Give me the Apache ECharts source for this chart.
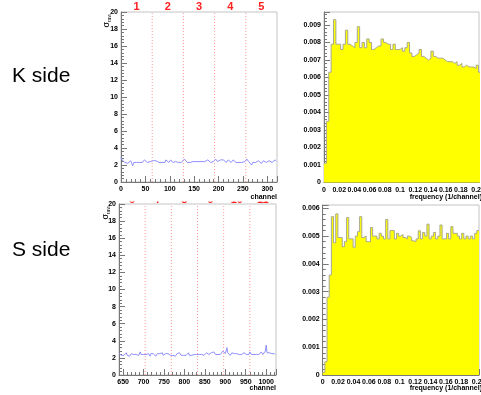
<!DOCTYPE html>
<html>
<head>
<meta charset="utf-8">
<script src="https://cdn.jsdelivr.net/npm/echarts@6/dist/echarts.min.js"></script>
<style>
  html, body { margin: 0; padding: 0; background: #fff; }
  #chart { width: 481px; height: 395px; }
</style>
</head>
<body>
<div id="chart"></div>
<script>
// K side noise, one value every 2 channels (0..318)
var kChannelStart = 0;
var channelStep = 2;
var kNoise = [
  2.9, 2.6, 2.4, 2.5, 2.3, 2.4, 2.5, 2.2, 2.4, 2.3,
  2.5, 2.2, 1.9, 2.3, 2.4, 2.2, 2.3, 2.5, 2.4, 2.3,
  2.4, 2.5, 2.3, 2.4, 2.6, 2.4, 2.5, 2.3, 2.4, 2.5,
  2.4, 2.6, 2.3, 2.5, 2.4, 2.3, 2.5, 2.4, 2.6, 2.3,
  2.4, 2.5, 2.3, 2.4, 2.5, 2.3, 2.6, 2.4, 2.5, 2.3,
  2.4, 2.6, 2.5, 2.3, 2.4, 2.5, 2.4, 2.6, 2.4, 2.3,
  2.5, 2.4, 2.3, 2.5, 2.4, 2.7, 2.5, 2.6, 2.3, 2.4,
  2.5, 2.3, 2.4, 2.2, 2.4, 2.5, 2.3, 2.4, 2.3, 2.5,
  2.4, 2.2, 2.3, 2.4, 2.3, 2.5, 2.4, 2.3, 2.4, 2.6,
  2.4, 2.5, 2.3, 2.4, 2.5, 2.4, 2.3, 2.7, 2.5, 2.4,
  2.5, 2.4, 2.6, 2.5, 2.4, 2.6, 2.4, 2.5, 2.3, 2.4,
  2.6, 2.4, 2.5, 2.3, 2.4, 2.6, 2.5, 2.4, 2.3, 2.5,
  2.4, 2.3, 2.5, 2.4, 2.3, 2.4, 2.5, 2.4, 2.3, 2.7,
  2.5, 2.4, 2.5, 2.3, 2.0, 2.3, 2.4, 2.5, 2.3, 2.4,
  2.3, 2.5, 2.4, 2.3, 2.2, 2.4, 2.5, 2.3, 2.4, 2.3,
  2.4, 2.2, 2.5, 2.3, 2.4, 2.3, 2.5, 2.4, 2.6, 2.5
];
// S side noise, one value every 2 channels (640..1022)
var sChannelStart = 640;
var sNoise = [
  2.5, 2.4, 2.6, 2.3, 2.5, 2.4, 2.3, 2.5, 2.4, 2.6,
  2.3, 2.4, 2.5, 2.2, 2.4, 2.5, 2.3, 2.6, 2.4, 2.5,
  2.3, 2.4, 2.6, 2.4, 2.3, 2.5, 2.7, 2.4, 2.5, 2.3,
  2.4, 2.2, 2.5, 2.4, 2.6, 2.3, 2.5, 2.4, 2.2, 2.5,
  2.4, 2.3, 2.5, 2.4, 2.6, 2.2, 2.4, 2.5, 2.3, 2.4,
  2.5, 2.3, 2.4, 2.6, 2.3, 2.4, 2.2, 2.5, 2.4, 2.3,
  2.5, 2.4, 2.6, 2.3, 2.4, 2.5, 2.3, 2.4, 2.5, 2.2,
  2.4, 2.5, 2.3, 2.4, 2.6, 2.4, 2.3, 2.5, 2.4, 2.3,
  2.5, 2.4, 2.3, 2.5, 2.4, 2.6, 2.3, 2.4, 2.5, 2.3,
  2.4, 2.5, 2.4, 2.3, 2.6, 2.4, 2.5, 2.3, 2.4, 2.5,
  2.3, 2.4, 2.5, 2.4, 2.3, 2.5, 2.4, 2.6, 2.4, 2.5,
  2.4, 2.3, 2.5, 2.6, 2.4, 2.5, 2.7, 2.5, 2.4, 2.6,
  2.5, 2.4, 2.6, 2.5, 2.4, 2.6, 2.5, 2.8, 2.6, 2.9,
  2.5, 2.4, 3.2, 2.6, 2.4, 2.5, 2.3, 2.4, 2.6, 2.5,
  2.4, 2.5, 2.3, 2.4, 2.5, 2.4, 2.6, 2.4, 2.3, 2.5,
  2.4, 2.5, 2.3, 2.6, 2.4, 2.5, 2.4, 2.3, 2.5, 2.4,
  2.7, 2.5, 2.4, 2.6, 2.5, 2.4, 2.3, 2.5, 2.4, 2.6,
  2.5, 2.4, 2.6, 2.5, 2.7, 2.5, 2.4, 2.6, 2.5, 2.8,
  3.5, 2.6, 2.5, 2.4, 2.6, 2.5, 2.4, 2.5, 2.3, 2.6,
  2.5, 2.4
];

// chip boundaries and chip numbers
var kChipEdges = [64, 128, 192, 256];
var kChipCenters = [32, 96, 160, 224, 288];
var kChipNames = ["1", "2", "3", "4", "5"];
var sChipEdges = [704, 768, 832, 896, 960];
var sChipCenters = [672, 736, 800, 864, 928, 992];
var sChipNames = ["6", "7", "8", "9", "10", "11"];

// frequency spectra (histogram bin contents)
var kBinWidth = 0.003125;
var kSpectrum = [
  0.0011, 0.0035, 0.0063, 0.0079, 0.0093, 0.0079, 0.0079, 0.0076, 0.0079, 0.0087,
  0.0079, 0.0078, 0.0077, 0.0080, 0.0089, 0.0077, 0.0080, 0.0077, 0.0082, 0.0080,
  0.0076, 0.0077, 0.0078, 0.0078, 0.0082, 0.0080, 0.0079, 0.0079, 0.0076, 0.0079,
  0.0076, 0.0076, 0.0077, 0.0075, 0.0077, 0.0080, 0.0074, 0.0072, 0.0073, 0.0074,
  0.0076, 0.0072, 0.0071, 0.0070, 0.0071, 0.0075, 0.0072, 0.0071, 0.0071, 0.0071,
  0.0070, 0.0069, 0.0069, 0.0069, 0.0068, 0.0069, 0.0067, 0.0068, 0.0066, 0.0067,
  0.0066, 0.0066, 0.0066, 0.0065, 0.0067, 0.0063
];
var sBinWidth = 0.00282;
var sSpectrum = [
  0.0001, 0.00048, 0.0028, 0.0036, 0.0057, 0.00476, 0.0058, 0.00495, 0.00495, 0.00462,
  0.0048, 0.00567, 0.0049, 0.0049, 0.0046, 0.0050, 0.00516, 0.0057, 0.00495, 0.0050,
  0.0048, 0.0048, 0.00531, 0.0050, 0.0050, 0.0049, 0.0051, 0.0050, 0.0049, 0.0056,
  0.0049, 0.0052, 0.0052, 0.0049, 0.0051, 0.0050, 0.00506, 0.00495, 0.0049, 0.0050,
  0.00495, 0.00483, 0.0048, 0.0049, 0.00519, 0.0049, 0.00513, 0.0050, 0.00543, 0.0049,
  0.0050, 0.00513, 0.0049, 0.0050, 0.0054, 0.0049, 0.0049, 0.0051, 0.0049, 0.00534,
  0.0051, 0.0051, 0.0050, 0.0049, 0.0051, 0.0049, 0.0050, 0.0049, 0.0050, 0.0049,
  0.0051, 0.0052
];

var FONT = "'Liberation Sans', Arial, sans-serif";

// ROOT axis font is a narrow helvetica bold; use the narrow Liberation face when it is there
function hasFont(name) {
  var ctx = document.createElement("canvas").getContext("2d");
  ctx.font = "bold 100px monospace";
  var base = ctx.measureText("0.0123456789").width;
  ctx.font = "bold 100px '" + name + "', monospace";
  return Math.abs(ctx.measureText("0.0123456789").width - base) > 1;
}
var narrow = hasFont("Liberation Sans Narrow");
var AXFONT = narrow ? "'Liberation Sans Narrow', " + FONT : FONT;
var AXSIZE = narrow ? 8.5 : 7;

function toPairs(start, step, vals) {
  return vals.map(function(v, i) { return [start + step * i, v]; });
}
function toSteps(width, vals) {
  var pts = vals.map(function(v, i) { return [i * width, v]; });
  pts.push([vals.length * width, vals[vals.length - 1]]);
  return pts;
}
function onTick(v, itv) {
  var r = v / itv;
  return Math.abs(r - Math.round(r)) < 1e-6;
}

var tickLabel = {
  fontFamily: AXFONT,
  fontWeight: "bold",
  fontSize: AXSIZE,
  color: "#000"
};

function xAxisFor(gridIndex, min, max, interval, fmt) {
  return {
    type: "value",
    gridIndex: gridIndex,
    min: min,
    max: max,
    interval: interval,
    splitNumber: interval ? undefined : 8,
    axisLine: { lineStyle: { color: "#777", width: 1 } },
    axisTick: { inside: true, length: 6, lineStyle: { color: "#777" } },
    minorTick: { show: true, splitNumber: 5, length: 3, lineStyle: { color: "#777" } },
    splitLine: { show: false },
    axisLabel: Object.assign({ margin: 4, formatter: fmt }, tickLabel)
  };
}
function yAxisFor(gridIndex, max, interval, fmt) {
  return {
    type: "value",
    gridIndex: gridIndex,
    min: 0,
    max: max,
    interval: interval,
    axisLine: { show: true, lineStyle: { color: "#777", width: 1 } },
    axisTick: { show: true, inside: true, length: 6, lineStyle: { color: "#777" } },
    minorTick: { show: true, splitNumber: 5, length: 3, lineStyle: { color: "#777" } },
    splitLine: { show: false },
    axisLabel: Object.assign({ margin: 3, formatter: fmt }, tickLabel)
  };
}

// one dotted vertical series per chip boundary
function chipLineSeries(axisIndex, edges) {
  return edges.map(function(e) {
    return {
      type: "line",
      xAxisIndex: axisIndex,
      yAxisIndex: axisIndex,
      silent: true,
      showSymbol: false,
      z: 1,
      lineStyle: { type: [1, 2], color: "#ff9c9c", width: 1 },
      data: [[e, 0], [e, 20]]
    };
  });
}

function chipMarks(centers, names, offsetY) {
  return {
    symbolSize: 0,
    silent: true,
    label: {
      show: true,
      position: "inside",
      offset: [0, offsetY],
      color: "#ff2020",
      fontFamily: FONT,
      fontWeight: "bold",
      fontSize: 11,
      formatter: function(p) { return p.name; }
    },
    data: centers.map(function(c, i) {
      return { name: names[i], coord: [c, 20] };
    })
  };
}

var gridStyle = { show: true, borderColor: "#c4c4c4", borderWidth: 1, backgroundColor: "#fff", outerBoundsMode: "none", containLabel: false };

var series = [
  {
    type: "line",
    xAxisIndex: 0,
    yAxisIndex: 0,
    showSymbol: false,
    z: 3,
    lineStyle: { color: "#8f8fff", width: 1 },
    data: toPairs(kChannelStart, channelStep, kNoise),
    markPoint: chipMarks(kChipCenters, kChipNames, -5)
  },
  {
    type: "line",
    xAxisIndex: 1,
    yAxisIndex: 1,
    step: "end",
    showSymbol: false,
    lineStyle: { color: "#a8a890", width: 1 },
    areaStyle: { color: "#ffff00", opacity: 1 },
    data: toSteps(kBinWidth, kSpectrum)
  },
  {
    type: "line",
    xAxisIndex: 2,
    yAxisIndex: 2,
    showSymbol: false,
    z: 3,
    lineStyle: { color: "#8f8fff", width: 1 },
    data: toPairs(sChannelStart, channelStep, sNoise),
    markPoint: chipMarks(sChipCenters, sChipNames, -4.5)
  },
  {
    type: "line",
    xAxisIndex: 3,
    yAxisIndex: 3,
    step: "end",
    showSymbol: false,
    lineStyle: { color: "#a8a890", width: 1 },
    areaStyle: { color: "#ffff00", opacity: 1 },
    data: toSteps(sBinWidth, sSpectrum)
  }
].concat(chipLineSeries(0, kChipEdges), chipLineSeries(2, sChipEdges));

var chart = echarts.init(document.getElementById("chart"));
chart.setOption({
  animation: false,
  backgroundColor: "#fff",
  tooltip: { show: false },
  grid: [
    Object.assign({ left: 121, top: 12, width: 156, height: 170 }, gridStyle),
    Object.assign({ left: 324, top: 12, width: 155, height: 170.5 }, gridStyle),
    Object.assign({ left: 119, top: 204, width: 157, height: 171 }, gridStyle),
    Object.assign({ left: 322.7, top: 205, width: 156.3, height: 170 }, gridStyle)
  ],
  xAxis: [
    xAxisFor(0, 0, 320, 50, function(v) { return onTick(v, 50) ? String(v) : ""; }),
    xAxisFor(1, 0, 0.2038, 0.02, function(v) { return onTick(v, 0.02) ? String(parseFloat(v.toFixed(2))) : ""; }),
    xAxisFor(2, 640, 1024, null, function(v) { return onTick(v, 50) ? String(v) : ""; }),
    xAxisFor(3, 0, 0.203, 0.02, function(v) { return onTick(v, 0.02) ? String(parseFloat(v.toFixed(2))) : ""; })
  ],
  yAxis: [
    yAxisFor(0, 20, 2, function(v) { return String(v); }),
    yAxisFor(1, 0.00974, 0.001, function(v) { return !onTick(v, 0.001) ? "" : (v < 1e-9 ? "0" : v.toFixed(3)); }),
    yAxisFor(2, 20, 2, function(v) { return String(v); }),
    yAxisFor(3, 0.00612, 0.001, function(v) { return !onTick(v, 0.001) ? "" : (v < 1e-9 ? "0" : v.toFixed(3)); })
  ],
  series: series,
  graphic: [
    // hides the upper part of the S side chip numbers, as in the original pad overlap
    { type: "rect", z: 50, silent: true, shape: { x: 120, y: 192, width: 160, height: 9.5 }, style: { fill: "#fff" } },
    { type: "text", z: 100, left: 12, top: 66, style: { text: "K side", fontFamily: FONT, fontSize: 21, fill: "#000" } },
    { type: "text", z: 100, left: 12, top: 240, style: { text: "S side", fontFamily: FONT, fontSize: 21, fill: "#000" } },
    { type: "text", z: 100, x: 277, y: 197, style: { text: "channel", align: "right", verticalAlign: "middle", fontFamily: AXFONT, fontWeight: "bold", fontSize: AXSIZE, fill: "#000" } },
    { type: "text", z: 100, x: 276, y: 388, style: { text: "channel", align: "right", verticalAlign: "middle", fontFamily: AXFONT, fontWeight: "bold", fontSize: AXSIZE, fill: "#000" } },
    { type: "text", z: 100, x: 482, y: 197, style: { text: "frequency (1/channel)", align: "right", verticalAlign: "middle", fontFamily: AXFONT, fontWeight: "bold", fontSize: AXSIZE, fill: "#000" } },
    { type: "text", z: 100, x: 482, y: 388, style: { text: "frequency (1/channel)", align: "right", verticalAlign: "middle", fontFamily: AXFONT, fontWeight: "bold", fontSize: AXSIZE, fill: "#000" } },
    {
      type: "text", z: 100, x: 107, y: 14, rotation: Math.PI / 2,
      style: {
        text: "{s|σ}{r|raw}", align: "right", verticalAlign: "middle",
        rich: { s: { fontFamily: FONT, fontSize: 9, fill: "#000" }, r: { fontFamily: FONT, fontSize: 5, fill: "#000", padding: [5, 0, 0, 0] } }
      }
    },
    {
      type: "text", z: 100, x: 106, y: 206, rotation: Math.PI / 2,
      style: {
        text: "{s|σ}{r|raw}", align: "right", verticalAlign: "middle",
        rich: { s: { fontFamily: FONT, fontSize: 9, fill: "#000" }, r: { fontFamily: FONT, fontSize: 5, fill: "#000", padding: [5, 0, 0, 0] } }
      }
    }
  ]
});
</script>
</body>
</html>
